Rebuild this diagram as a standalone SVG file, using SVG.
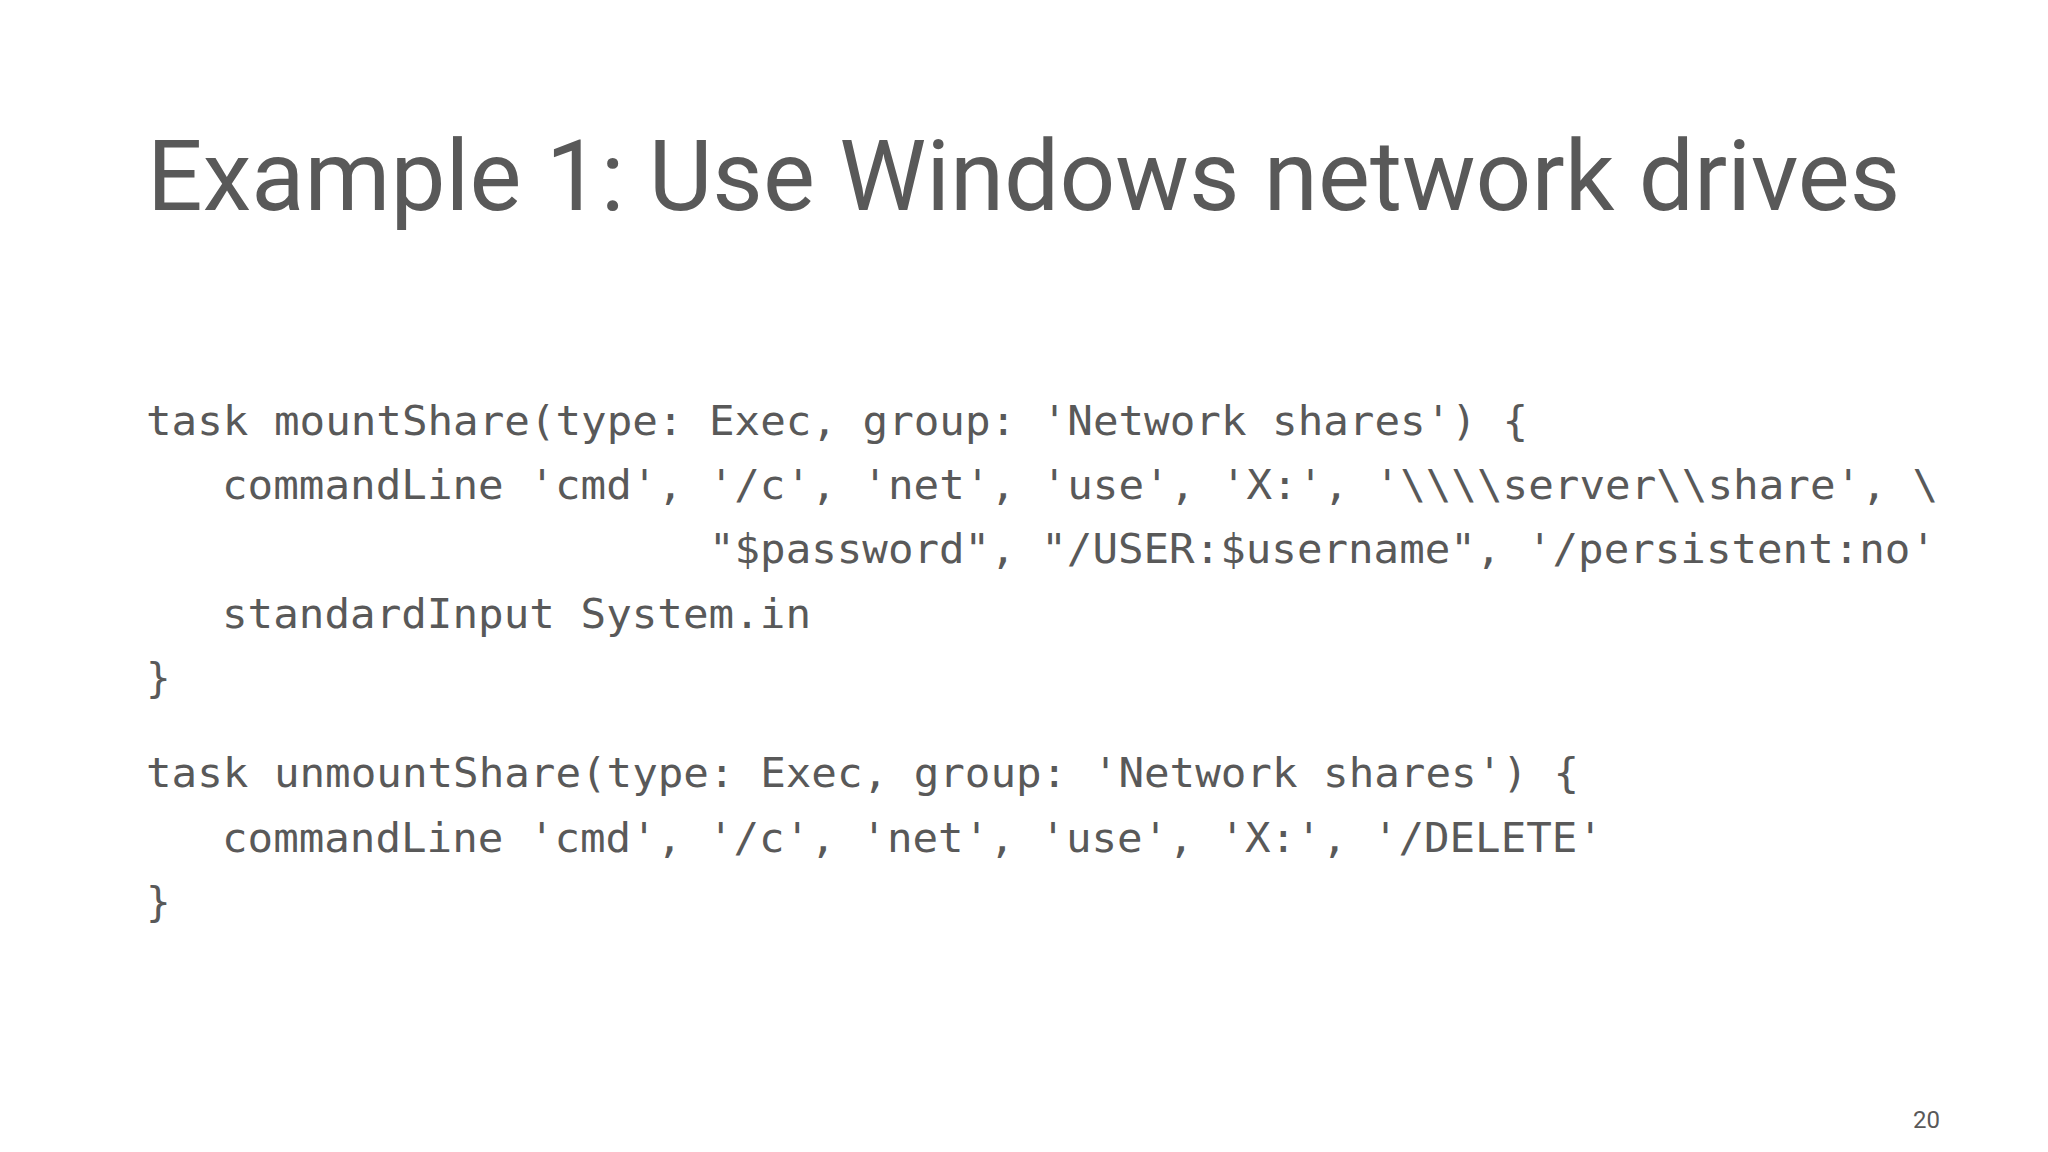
<svg xmlns="http://www.w3.org/2000/svg" width="2048" height="1152" viewBox="0 0 2048 1152">
<style>
.t{font-family:Roboto,"Liberation Sans",sans-serif;fill:#595959}
.c{font-family:"DejaVu Sans Mono","Liberation Mono",monospace;font-size:41px;fill:#595959;white-space:pre}
</style>
<rect width="2048" height="1152" fill="#ffffff"/>
<g id="title"><text class="t" x="147" y="210" font-size="98">Example 1: Use Windows network drives</text></g>
<g id="code">
<text class="c" x="146" y="435" textLength="1382" lengthAdjust="spacingAndGlyphs">task mountShare(type: Exec, group: 'Network shares') {</text>
<text class="c" x="222" y="499" textLength="1716" lengthAdjust="spacingAndGlyphs">commandLine 'cmd', '/c', 'net', 'use', 'X:', '\\\\server\\share', \</text>
<text class="c" x="709" y="563" textLength="1227" lengthAdjust="spacingAndGlyphs">"$password", "/USER:$username", '/persistent:no'</text>
<text class="c" x="222" y="628" textLength="589" lengthAdjust="spacingAndGlyphs">standardInput System.in</text>
<text class="c" x="146" y="692">}</text>
<text class="c" x="146" y="787" textLength="1433" lengthAdjust="spacingAndGlyphs">task unmountShare(type: Exec, group: 'Network shares') {</text>
<text class="c" x="222" y="852" textLength="1381" lengthAdjust="spacingAndGlyphs">commandLine 'cmd', '/c', 'net', 'use', 'X:', '/DELETE'</text>
<text class="c" x="146" y="916">}</text>
</g>
<g id="page"><text class="t" x="1940" y="1128" font-size="24" text-anchor="end">20</text></g>
</svg>
